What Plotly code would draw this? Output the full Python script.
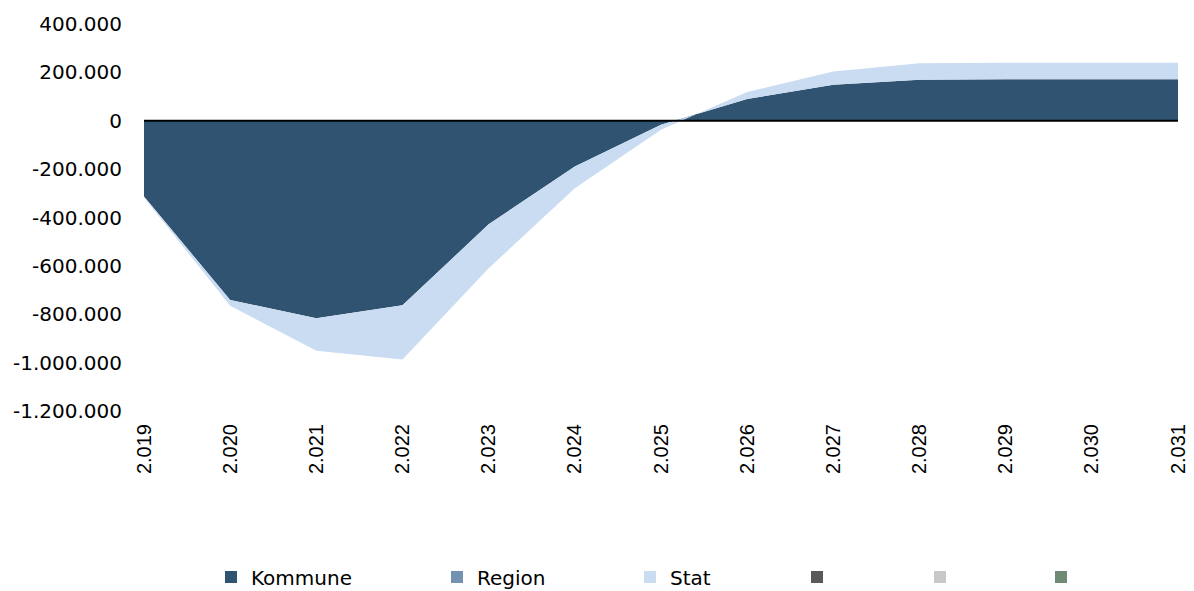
import plotly.graph_objects as go

years = ["2.019", "2.020", "2.021", "2.022", "2.023", "2.024", "2.025",
         "2.026", "2.027", "2.028", "2.029", "2.030", "2.031"]
kommune = [-313000, -741000, -817000, -763000, -428000, -189000, -17000,
           90000, 149000, 170000, 172000, 172000, 172000]
region = [0, 0, 0, 0, 0, 0, 0, 0, 0, 0, 0, 0, 0]
stat = [-4000, -24000, -134000, -224000, -182000, -90000, -20000,
        29000, 55000, 68000, 68000, 68000, 68000]

series_names = ["Kommune", "Region", "Stat", "", "", ""]
series_colors = ["#2F5370", "#7391B0", "#CADCF1", "#595959", "#C8C8C8", "#6E8B74"]
legend_px = [236, 462, 655, 822, 945, 1066]

y_ticks = [-1200000, -1000000, -800000, -600000, -400000, -200000, 0, 200000, 400000]
y_ticktext = ["-1.200.000", "-1.000.000", "-800.000", "-600.000", "-400.000",
              "-200.000", "0", "200.000", "400.000"]

fig = go.Figure()
for name, vals, col in zip(series_names[:3], [kommune, region, stat], series_colors[:3]):
    fig.add_trace(go.Scatter(
        x=years, y=vals, name=name, mode="lines", stackgroup="one",
        line=dict(width=0, color=col), fillcolor=col, showlegend=False,
        hoverinfo="x+y+name"))

PL, PR, PT, PB = 144, 1178, 24, 411
for i, (name, col) in enumerate(zip(series_names, series_colors)):
    lg = "legend" if i == 0 else f"legend{i+1}"
    fig.add_trace(go.Scatter(
        x=[None], y=[None], name=name, mode="markers",
        marker=dict(symbol="square", size=12, color=col),
        showlegend=True, legend=lg))

legend_font = dict(family="DejaVu Sans", size=20, color="#000000")
layout_legends = {}
for i, px in enumerate(legend_px):
    lg = "legend" if i == 0 else f"legend{i+1}"
    layout_legends[lg] = dict(
        x=(px - 25 - PL) / (PR - PL), xanchor="left",
        y=(PB - 577) / (PB - PT), yanchor="middle", orientation="h",
        font=legend_font, bgcolor="rgba(0,0,0,0)", itemwidth=30,
        borderwidth=0)

fig.update_layout(
    width=1194, height=591,
    margin=dict(l=PL, r=1194 - PR, t=PT, b=591 - PB, autoexpand=False),
    paper_bgcolor="white", plot_bgcolor="white",
    **layout_legends,
    xaxis=dict(
        type="category", range=[0, len(years) - 1], showgrid=False,
        zeroline=False, showline=False, ticks="", tickangle=-90,
        tickfont=dict(family="Liberation Sans", size=20, color="#000000"),
        ticklabelstandoff=8, automargin=False),
    yaxis=dict(
        range=[-1200000, 400000], tickvals=y_ticks, ticktext=y_ticktext,
        showgrid=False, zeroline=False, showline=False, ticks="",
        tickfont=dict(family="DejaVu Sans", size=20, color="#000000"),
        ticklabelstandoff=21, automargin=False),
    shapes=[dict(type="line", xref="paper", x0=0, x1=1, yref="y", y0=0, y1=0,
                 line=dict(color="#000000", width=2), layer="above")],
)

fig.write_html("out.html", config={"displayModeBar": False},
               post_script="document.body.style.margin='0';")
